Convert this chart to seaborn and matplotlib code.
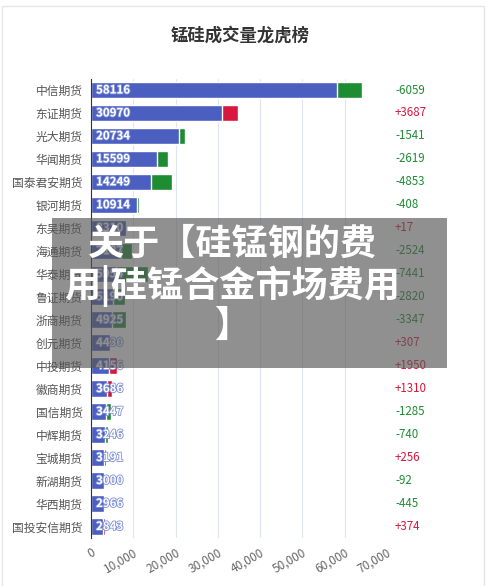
import pandas as pd
import seaborn as sns
import matplotlib.pyplot as plt
import matplotlib.patheffects as pe
from matplotlib.patches import Rectangle

# 期货公司、成交量、增减
brokers = ['中信期货', '东证期货', '光大期货', '华闻期货', '国泰君安期货', '银河期货',
           '东吴期货', '海通期货', '华泰期货', '鲁证期货', '浙商期货', '创元期货',
           '中投期货', '徽商期货', '国信期货', '中辉期货', '宝城期货', '新湖期货',
           '华西期货', '国投安信期货']
volumes = [58116, 30970, 20734, 15599, 14249, 10914, 8310, 7187, 5954, 5190,
           4925, 4430, 4156, 3686, 3447, 3246, 3191, 3000, 2966, 2843]
changes = [-6059, 3687, -1541, -2619, -4853, -408, 17, -2524, -7441, -2820,
           -3347, 307, 1950, 1310, -1285, -740, 256, -92, -445, 374]
x_ticks = [0, 10000, 20000, 30000, 40000, 50000, 60000, 70000]

BLUE = '#4b5fc0'
GREEN = '#1e8c32'
RED = '#d8173c'

df = pd.DataFrame({'broker': brokers, 'volume': volumes, 'change': changes})
df['total'] = df['volume'] + df['change'].abs()
df['sign'] = ['up' if c > 0 else 'down' for c in df['change']]

sns.set_style('white')
plt.rcParams['font.family'] = ['Noto Sans CJK SC', 'DejaVu Sans']
plt.rcParams['axes.unicode_minus'] = False

fig = plt.figure(figsize=(5, 5.86), dpi=100)
ax = fig.add_axes([0.182, 0.082, 0.592, 0.784])

# 增减部分先画（总长度），成交量盖在上面
sns.barplot(data=df, x='total', y='broker', hue='sign', orient='h',
            palette={'up': RED, 'down': GREEN}, dodge=False, width=0.72,
            legend=False, ax=ax, saturation=1)
sns.barplot(data=df, x='volume', y='broker', orient='h', color=BLUE,
            width=0.72, ax=ax, saturation=1)

ax.set_xlim(0, 70000)
ax.set_ylim(len(brokers) - 0.5, -0.5)
ax.set_xticks(x_ticks)
ax.set_xticklabels([f'{t:,}' for t in x_ticks], rotation=30, ha='right',
                   rotation_mode='anchor', fontsize=8.5, color='#666666')
ax.tick_params(axis='x', length=0, pad=6)
ax.set_yticks(range(len(brokers)))
ax.set_yticklabels(brokers, fontsize=8.5, color='#555555')
ax.tick_params(axis='y', length=0, pad=6)
ax.set_yticks([i - 0.5 for i in range(len(brokers) + 1)], minor=True)
ax.tick_params(axis='y', which='minor', length=4, color='#333333', width=0.8)
ax.set_xlabel('')
ax.set_ylabel('')
ax.grid(axis='x', color='#e0e6f1', linewidth=0.8)
ax.set_axisbelow(True)
for s in ['top', 'right', 'bottom']:
    ax.spines[s].set_visible(False)
ax.spines['left'].set_color('#333333')
ax.spines['left'].set_linewidth(0.8)

# 柱内数值
for i, v in enumerate(volumes):
    ax.text(1200, i, str(v), va='center', ha='left', fontsize=8.3,
            color='white', fontweight='bold',
            path_effects=[pe.withStroke(linewidth=1.2, foreground='#7f8fd6')])

# 右侧增减
for i, c in enumerate(changes):
    label = f'+{c}' if c > 0 else str(c)
    ax.text(1.027, i, label, transform=ax.get_yaxis_transform(), va='center',
            ha='left', fontsize=8.3, color=RED if c > 0 else GREEN)

fig.text(0.48, 0.94, '锰硅成交量龙虎榜', ha='center', va='center',
         fontsize=12.5, fontweight='bold', color='#333333')

# 卡片边框
fig.patches.append(Rectangle((0.004, -0.01), 0.964, 1.0, transform=fig.transFigure,
                             fill=False, edgecolor='#e6e6e6', linewidth=1))

# 灰色遮罩与标题文字
fig.patches.append(Rectangle((0.104, 0.372), 0.79, 0.256, transform=fig.transFigure,
                             facecolor='#555555', alpha=0.65, edgecolor='none', zorder=5))
overlay_lines = ['关于【硅锰钢的费', '用|硅锰合金市场费用', '】']
for line, y in zip(overlay_lines, [0.583, 0.512, 0.443]):
    fig.text(0.465, y, line, ha='center', va='center', fontsize=26,
             fontweight='bold', color='white', zorder=6)

fig.savefig('out.png', dpi=100)
